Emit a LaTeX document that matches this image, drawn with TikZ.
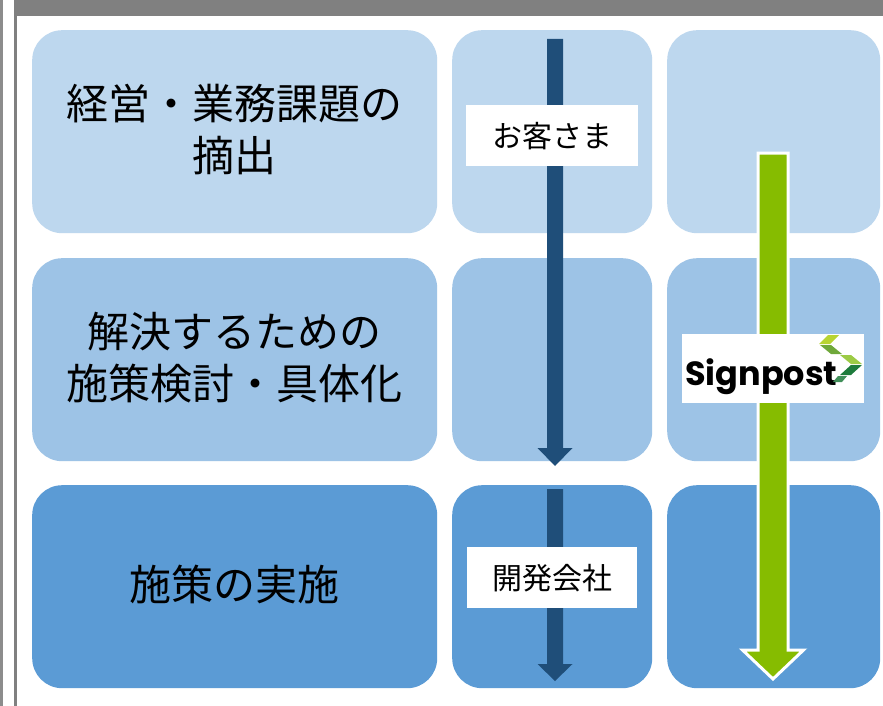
\documentclass[tikz,border=0pt]{standalone}
\usepackage{fontspec}
\setmainfont{Noto Sans CJK JP}
\newfontfamily\logofont{Poppins}
\definecolor{rowa}{HTML}{BDD7EE}
\definecolor{rowb}{HTML}{9DC3E6}
\definecolor{rowc}{HTML}{5B9BD5}
\definecolor{darkarrow}{HTML}{1F4E79}
\definecolor{greenarrow}{HTML}{86BC00}
\definecolor{barcol}{HTML}{808080}
\definecolor{linecol}{HTML}{8C8C8C}
\definecolor{lime}{HTML}{B8D432}
\definecolor{midgreen}{HTML}{6FA83A}
\definecolor{lightgreen}{HTML}{9CCB45}
\definecolor{deepgreen}{HTML}{1E7B3C}
\begin{document}
\begin{tikzpicture}[x=1pt,y=-1pt,
  cell/.style={rectangle,rounded corners=30pt,inner sep=0pt,anchor=north west,draw=none},
  bigtext/.style={font=\fontsize{42}{52}\selectfont,align=center,text=black,inner sep=0pt},
  tag/.style={fill=white,inner sep=0pt,anchor=north west,font=\fontsize{30}{36}\selectfont,text=black},
  darrow/.style={fill=darkarrow},
  garrow/.style={fill=greenarrow,draw=white,line width=3pt,line join=miter}
]
\useasboundingbox (0,0) rectangle (883,706);
\fill[white] (0,0) rectangle (883,706);
% frame
\fill[barcol] (16,0) rectangle (883,16);
\draw[linecol,line width=3pt] (1.5,0) -- (1.5,706);
\draw[barcol,line width=2.4pt] (15.5,0) -- (15.5,706);
% cells
\node[cell,fill=rowa,minimum width=405pt,minimum height=203pt] (c11) at (32,30) {};
\node[cell,fill=rowa,minimum width=200pt,minimum height=203pt] (c12) at (452,30) {};
\node[cell,fill=rowa,minimum width=213pt,minimum height=203pt] (c13) at (667,30) {};
\node[cell,fill=rowb,minimum width=405pt,minimum height=203pt] (c21) at (32,258) {};
\node[cell,fill=rowb,minimum width=200pt,minimum height=203pt] (c22) at (452,258) {};
\node[cell,fill=rowb,minimum width=213pt,minimum height=203pt] (c23) at (667,258) {};
\node[cell,fill=rowc,minimum width=405pt,minimum height=203pt] (c31) at (32,485) {};
\node[cell,fill=rowc,minimum width=200pt,minimum height=203pt] (c32) at (452,485) {};
\node[cell,fill=rowc,minimum width=213pt,minimum height=203pt] (c33) at (667,485) {};
% texts
\node[bigtext] (t1) at ([yshift=2pt]c11.center) {経営・業務課題の\\摘出};
\node[bigtext] (t2) at ([yshift=2pt]c21.center) {解決するための\\施策検討・具体化};
\node[bigtext] (t3) at ([yshift=2pt]c31.center) {施策の実施};
% dark arrows
\fill[darrow] (547,39) -- (563,39) -- (563,448) -- (572.5,448) -- (555,466) -- (537.5,448) -- (547,448) -- cycle;
\fill[darrow] (547,489) -- (563,489) -- (563,664) -- (572.5,664) -- (555,681) -- (537.5,664) -- (547,664) -- cycle;
% green arrow
\filldraw[garrow] (758,153) -- (788,153) -- (788,650) -- (803.5,650) -- (773,679) -- (742.5,650) -- (758,650) -- cycle;
% labels
\node[tag,minimum width=172pt,minimum height=61pt] (lab1) at (466,105) {お客さま};
\node[tag,minimum width=170pt,minimum height=61pt] (lab2) at (467,547) {開発会社};
% logo
\node[fill=white,inner sep=0pt,anchor=north west,minimum width=182pt,minimum height=69pt] (logobox) at (682,334) {};
\node[anchor=base west,inner sep=0pt,font=\logofont\bfseries\fontsize{33.5}{40}\selectfont,text=black] (logo) at (685,385) {Signpost};
\fill[lime] (828,335) -- (839,335) -- (830,344) -- (819,344) -- cycle;
\fill[midgreen] (820,345) -- (831,345) -- (842,354) -- (831,354) -- cycle;
\fill[lightgreen] (840,355) -- (851,355) -- (862,364) -- (851,364) -- cycle;
\fill[deepgreen] (851,365) -- (862,365) -- (851,375) -- (840,375) -- cycle;
\fill[deepgreen!85] (838,376) -- (847,376) -- (842,382) -- (833,382) -- cycle;
\end{tikzpicture}
\end{document}
